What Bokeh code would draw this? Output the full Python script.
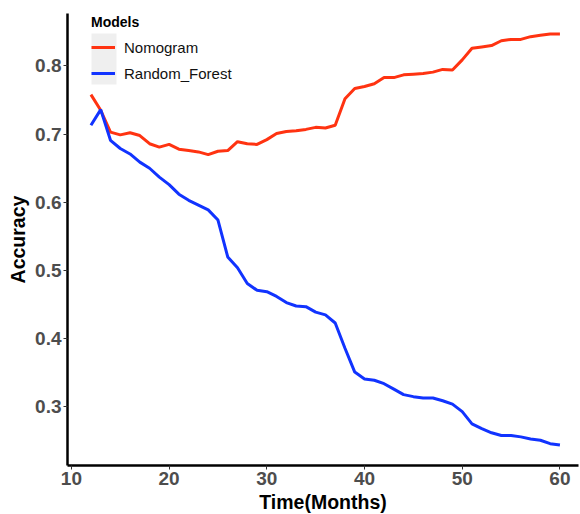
from bokeh.plotting import figure
from bokeh.models import Range1d, FixedTicker, Legend, LegendItem, BoxAnnotation, ColumnDataSource
from bokeh.embed import file_html
from bokeh.resources import INLINE

months = list(range(12, 61))
nomogram = [0.758, 0.735, 0.703, 0.699, 0.702, 0.698, 0.686, 0.681, 0.685, 0.678,
            0.676, 0.674, 0.670, 0.675, 0.676, 0.689, 0.686, 0.685, 0.692, 0.701,
            0.704, 0.705, 0.707, 0.710, 0.709, 0.713, 0.752, 0.767, 0.770, 0.774,
            0.783, 0.783, 0.787, 0.788, 0.789, 0.791, 0.795, 0.794, 0.809, 0.826,
            0.828, 0.830, 0.837, 0.839, 0.839, 0.843, 0.845, 0.847, 0.847]
random_forest = [0.713, 0.736, 0.691, 0.679, 0.671, 0.659, 0.650, 0.637, 0.626, 0.612,
                 0.603, 0.596, 0.589, 0.574, 0.520, 0.504, 0.481, 0.471, 0.469, 0.462,
                 0.453, 0.448, 0.447, 0.439, 0.435, 0.423, 0.386, 0.351, 0.341, 0.339,
                 0.334, 0.326, 0.318, 0.315, 0.313, 0.313, 0.309, 0.304, 0.293, 0.275,
                 0.268, 0.262, 0.258, 0.258, 0.256, 0.253, 0.251, 0.246, 0.244]
series_names = ["Nomogram", "Random_Forest"]
series_colors = ["#FF3311", "#1133FF"]
x_ticks = [10, 20, 30, 40, 50, 60]
y_ticks = [0.3, 0.4, 0.5, 0.6, 0.7, 0.8]

FONT = "Liberation Sans"

src = ColumnDataSource(dict(month=months, nomogram=nomogram, rf=random_forest))

p = figure(frame_width=511, frame_height=452, output_backend="svg", toolbar_location=None,
           x_range=Range1d(9.6, 61.9), y_range=Range1d(0.214, 0.877),
           min_border_left=67, min_border_top=13, min_border_right=2, min_border_bottom=49)
p.background_fill_color = "white"
p.border_fill_color = "white"
p.outline_line_color = None
p.xgrid.visible = False
p.ygrid.visible = False

box = BoxAnnotation(left=91, right=116, top=33, bottom=84,
                    left_units="canvas", right_units="canvas",
                    top_units="canvas", bottom_units="canvas",
                    fill_color="#EFEFEF", fill_alpha=1.0, line_alpha=0, level="underlay")
p.add_layout(box)

r1 = p.line("month", "nomogram", source=src, line_color=series_colors[0], line_width=3)
r2 = p.line("month", "rf", source=src, line_color=series_colors[1], line_width=3)

for ax in (p.xaxis[0], p.yaxis[0]):
    ax.axis_line_color = "black"
    ax.axis_line_width = 2.5
    ax.major_tick_line_color = "#333333"
    ax.major_tick_line_width = 1
    ax.major_tick_in = 0
    ax.major_tick_out = 4
    ax.minor_tick_line_color = None
    ax.major_label_text_font = FONT
    ax.major_label_text_font_style = "bold"
    ax.major_label_text_font_size = "19px"
    ax.major_label_text_color = "#4D4D4D"
    ax.major_label_standoff = 2
    ax.axis_label_text_font = FONT
    ax.axis_label_text_font_style = "bold"
    ax.axis_label_text_font_size = "19.5px"
    ax.axis_label_text_color = "black"
    ax.axis_label_standoff = 3

p.xaxis.ticker = FixedTicker(ticks=x_ticks)
p.yaxis.ticker = FixedTicker(ticks=y_ticks)
p.xaxis.axis_label = "Time(Months)"
p.yaxis.axis_label = "Accuracy"

legend = Legend(items=[LegendItem(label=series_names[0], renderers=[r1]),
                       LegendItem(label=series_names[1], renderers=[r2])],
                title="Models", location=(24, 379))
legend.title_text_font = FONT
legend.title_text_font_style = "bold"
legend.title_text_font_size = "14px"
legend.title_text_color = "black"
legend.title_standoff = 4
legend.label_text_font = FONT
legend.label_text_font_size = "15px"
legend.label_text_color = "#111111"
legend.background_fill_alpha = 0
legend.border_line_color = None
legend.padding = 0
legend.margin = 0
legend.spacing = 0
legend.glyph_width = 24
legend.glyph_height = 26
legend.label_height = 26
legend.label_standoff = 9
p.add_layout(legend)

open("out.html", "w").write(file_html(p, INLINE))
